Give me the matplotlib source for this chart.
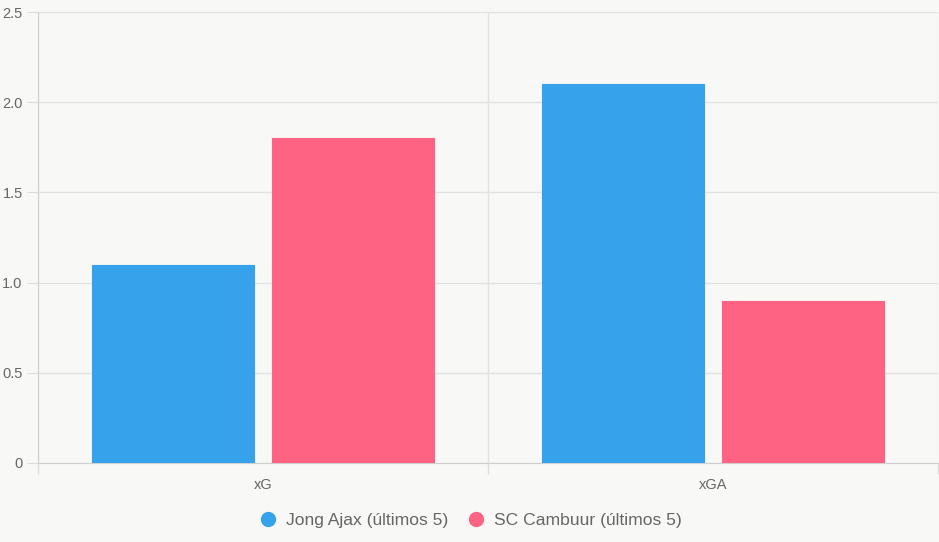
import numpy as np
import matplotlib.pyplot as plt
from matplotlib.lines import Line2D

categories = ['xG', 'xGA']
series_names = ['Jong Ajax (últimos 5)', 'SC Cambuur (últimos 5)']
ajax_values = [1.1, 2.1]
cambuur_values = [1.8, 0.9]
colors = ['#36a2eb', '#ff6384']

plt.rcParams['font.family'] = ['Liberation Sans', 'DejaVu Sans']

fig = plt.figure(figsize=(9.39, 5.42), dpi=100)
fig.patch.set_facecolor('#f8f8f6')
ax = fig.add_axes([38 / 939, 79 / 542, 900 / 939, 451 / 542])
ax.set_facecolor('#f8f8f6')

x = np.arange(len(categories))
width = 0.36
for i, (vals, name) in enumerate(zip([ajax_values, cambuur_values], series_names)):
    ax.bar(x + (i - 0.5) * 0.4, vals, width, color=colors[i], label=name,
           edgecolor=colors[i], linewidth=0.8, zorder=3)

ax.set_xlim(-0.5, len(categories) - 0.5)
ax.set_ylim(0, 2.5)
ax.set_yticks([0, 0.5, 1.0, 1.5, 2.0, 2.5])
ax.set_yticklabels(['0', '0.5', '1.0', '1.5', '2.0', '2.5'])
ax.set_xticks(x)
ax.set_xticklabels(categories)

# category boundary lines with tick stubs
ax.set_xticks(np.arange(-0.5, len(categories)), minor=True)
ax.tick_params(axis='x', which='minor', length=8, color='#dddddd', width=1)
ax.tick_params(axis='x', which='major', length=0, pad=11, labelsize=10.5, labelcolor='#666666')
ax.tick_params(axis='y', length=8, color='#dddddd', pad=3, labelsize=10.5, labelcolor='#666666')
ax.grid(axis='x', which='minor', color='#e2e2e2', linewidth=1, zorder=0)
ax.grid(axis='y', which='major', color='#e2e2e2', linewidth=1, zorder=0)

for s in ['top', 'right']:
    ax.spines[s].set_visible(False)
ax.spines['left'].set_color('#cfcfcf')
ax.spines['bottom'].set_color('#cfcfcf')

handles = [Line2D([], [], marker='o', linestyle='', markersize=10,
                  markerfacecolor=c, markeredgecolor=c) for c in colors]
fig.legend(handles, series_names, loc='center', bbox_to_anchor=(0.5, 22 / 542),
           ncol=2, frameon=False, fontsize=12.6, labelcolor='#666666',
           handletextpad=0.4, columnspacing=1.0, handlelength=1.2)

fig.savefig('out.png', dpi=100, facecolor=fig.get_facecolor())
